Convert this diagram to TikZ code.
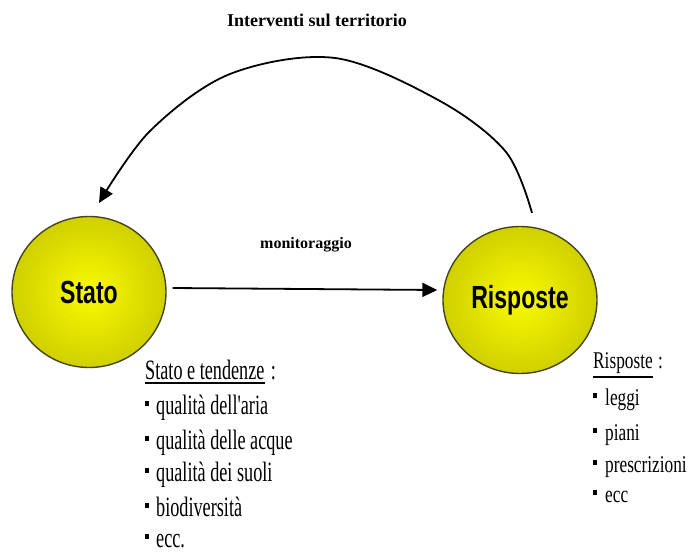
\documentclass[tikz,border=0pt]{standalone}
\usepackage{fontspec}
\setmainfont{Liberation Serif}
\newfontfamily\listfont[FakeStretch=0.65]{Liberation Serif}
\newfontfamily\rlistfont[FakeStretch=0.72]{Liberation Serif}
\newfontfamily\ballfont[FakeStretch=0.72]{Liberation Sans}
\usetikzlibrary{arrows.meta,shapes.geometric}
\definecolor{ballin}{RGB}{250,250,0}
\definecolor{ballout}{RGB}{208,208,0}
\definecolor{ballline}{RGB}{70,70,30}
\tikzset{
 ball/.style={ellipse, draw=ballline, line width=1.4pt, shading=radial, inner color=ballin, outer color=ballout, inner sep=0pt, font=\ballfont\bfseries\fontsize{32}{36}\selectfont},
 conn/.style={line width=1.8pt, -{Triangle[length=15pt,width=14pt]}},
 ltext/.style={anchor=base west, inner sep=0pt, font=\listfont\fontsize{28}{32}\selectfont},
 rtext/.style={anchor=base west, inner sep=0pt, font=\rlistfont\fontsize{24}{28}\selectfont},
 uline/.style={line width=1.6pt},
 titletext/.style={anchor=base, inner sep=0pt, font=\bfseries\fontsize{18}{20}\selectfont},
 labtext/.style={anchor=base, inner sep=0pt, font=\bfseries\fontsize{16}{18}\selectfont},
}
\newcommand{\lbul}{\raisebox{8pt}{\rule{4pt}{5pt}}\hspace{7pt}}
\newcommand{\rbul}{\raisebox{7pt}{\rule{4pt}{5pt}}\hspace{8pt}}
\begin{document}
\begin{tikzpicture}[x=1pt,y=1pt]
\useasboundingbox[fill=white] (0,0) rectangle (690,-554);
% title and label
\node[titletext] (title) at (317,-26) {Interventi sul territorio};
\node[labtext] (mon) at (306,-248) {monitoraggio};
% balls
\node[ball, minimum width=154pt, minimum height=151pt] (stato) at (89,-292) {Stato};
\node[ball, minimum width=154pt, minimum height=147pt] (risp) at (520,-300) {Risposte};
% connectors
\coordinate (cs) at (532,-213);
\coordinate (ce) at (99,-203);
\draw[conn] plot[smooth, tension=0.55] coordinates {(cs) (506,-152) (440,-101) (335,-58) (230,-74) (150,-131) (ce)};
\draw[conn] ([shift={(6,4)}]stato.east) -- ([shift={(-5,10)}]risp.west);
% left list
\node[ltext] (sh) at (145,-379) {Stato e tendenze};
\node[ltext] (shc) at ([xshift=6pt]sh.base east) {:};
\draw[uline] ([yshift=-4pt]sh.base west) -- ([yshift=-4pt]sh.base east);
\node[ltext] (l1) at (145,-414) {\lbul qualità dell'aria};
\node[ltext] (l2) at (145,-449) {\lbul qualità delle acque};
\node[ltext] (l3) at (145,-481) {\lbul qualità dei suoli};
\node[ltext] (l4) at (145,-516) {\lbul biodiversità};
\node[ltext] (l5) at (145,-547) {\lbul ecc.};
% right list
\node[rtext] (rh) at (593,-368) {Risposte};
\node[rtext] (rhc) at ([xshift=5pt]rh.base east) {:};
\draw[uline] ([yshift=-9pt]rh.base west) -- ([yshift=-9pt]rh.base east);
\node[rtext] (r1) at (593,-405) {\rbul leggi};
\node[rtext] (r2) at (593,-440) {\rbul piani};
\node[rtext] (r3) at (593,-472) {\rbul prescrizioni};
\node[rtext] (r4) at (593,-502) {\rbul ecc};
\end{tikzpicture}
\end{document}
